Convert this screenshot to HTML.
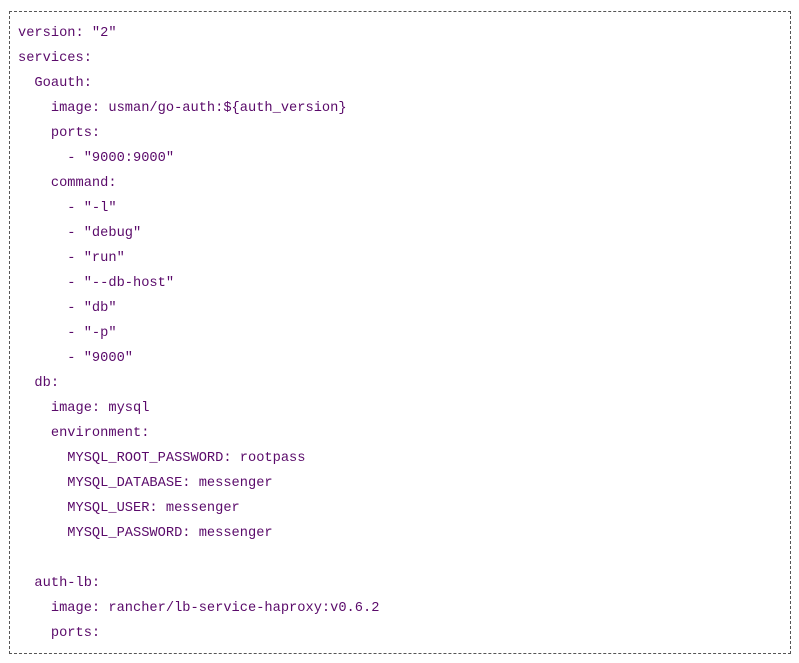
<!DOCTYPE html>
<html><head><meta charset="utf-8"><style>
html,body{margin:0;padding:0;background:#fff;width:799px;height:663px;overflow:hidden}
.box{position:absolute;left:9px;top:11px;width:780px;height:641px;border:1px dashed #555}
pre{position:absolute;left:18px;top:21px;margin:0;font-family:"Liberation Mono",monospace;font-size:13.7px;line-height:25px;color:#5a0a6a}
</style></head><body>
<div class="box"></div>
<pre>version: "2"
services:
  Goauth:
    image: usman/go-auth:${auth_version}
    ports:
      - "9000:9000"
    command:
      - "-l"
      - "debug"
      - "run"
      - "--db-host"
      - "db"
      - "-p"
      - "9000"
  db:
    image: mysql
    environment:
      MYSQL_ROOT_PASSWORD: rootpass
      MYSQL_DATABASE: messenger
      MYSQL_USER: messenger
      MYSQL_PASSWORD: messenger

  auth-lb:
    image: rancher/lb-service-haproxy:v0.6.2
    ports:</pre>
</body></html>
